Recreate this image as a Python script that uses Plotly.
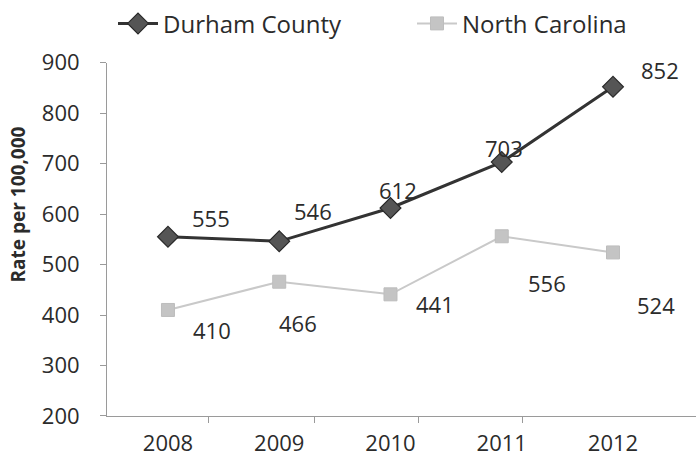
import plotly.graph_objects as go

# Data
years = ["2008", "2009", "2010", "2011", "2012"]
durham = [555, 546, 612, 703, 852]
north_carolina = [410, 466, 441, 556, 524]
y_ticks = [200, 300, 400, 500, 600, 700, 800, 900]

FONT = "Open Sans, Noto Sans, sans-serif"
TXT = "#2b2b2b"

x = list(range(len(years)))

fig = go.Figure()
fig.add_trace(go.Scatter(
    x=x, y=durham, name="Durham County", mode="lines+markers",
    line=dict(color="#333333", width=3),
    marker=dict(symbol="diamond", size=16, color="#555555",
                line=dict(color="#2a2a2a", width=1.2)),
    legend="legend",
))
fig.add_trace(go.Scatter(
    x=x, y=north_carolina, name="North Carolina", mode="lines+markers",
    line=dict(color="#c9c9c9", width=2),
    marker=dict(symbol="square", size=13, color="#c4c4c4",
                line=dict(color="#bdbdbd", width=1)),
    legend="legend2",
))

# value labels, offset from each point in pixels
durham_off = [(43, -19), (34, -30), (8, -18), (2, -14), (47, -17)]
nc_off = [(44, 20), (19, 41), (45, 10), (45, 47), (43, 53)]
for vals, offs in ((durham, durham_off), (north_carolina, nc_off)):
    for xi, v, (dx, dy) in zip(x, vals, offs):
        fig.add_annotation(x=xi, y=v, text=str(v), showarrow=False,
                           xshift=dx, yshift=-dy,
                           font=dict(family=FONT, size=22, color=TXT))

# y-axis title
fig.add_annotation(text="<b>Rate per 100,000</b>", textangle=-90,
                   xref="paper", yref="paper", x=-0.152, y=0.6,
                   xanchor="center", yanchor="middle", showarrow=False,
                   font=dict(family=FONT, size=19, color=TXT))

legend_style = dict(orientation="h", xref="container", yref="container",
                    y=0.950, xanchor="left", yanchor="middle",
                    font=dict(family=FONT, size=24, color=TXT),
                    itemwidth=40, bgcolor="rgba(0,0,0,0)")

fig.update_layout(
    width=696, height=476,
    margin=dict(l=107, r=0, t=61, b=60),
    paper_bgcolor="white", plot_bgcolor="white",
    font=dict(family=FONT, size=19, color=TXT),
    showlegend=True,
    legend=dict(x=113 / 696, **legend_style),
    legend2=dict(x=412 / 696, **legend_style),
    xaxis=dict(
        range=[-0.548, 4.746], tickmode="array", tickvals=x, ticktext=years,
        showgrid=False, zeroline=False, showline=True,
        linecolor="#9a9a9a", linewidth=1, ticks="",
        ticklabelstandoff=8,
        tickfont=dict(family=FONT, size=22, color=TXT),
        minor=dict(tickvals=[0.36, 1.32, 2.25, 3.19], ticks="outside",
                   ticklen=6, tickcolor="#9a9a9a", showgrid=False),
    ),
    yaxis=dict(
        range=[200, 900], tickmode="array", tickvals=y_ticks,
        showgrid=False, zeroline=False, showline=True,
        linecolor="#9a9a9a", linewidth=1,
        ticks="outside", ticklen=6, tickcolor="#9a9a9a",
        ticklabelstandoff=16,
        tickfont=dict(family=FONT, size=22, color=TXT),
    ),
)

fig.write_html("out.html")
